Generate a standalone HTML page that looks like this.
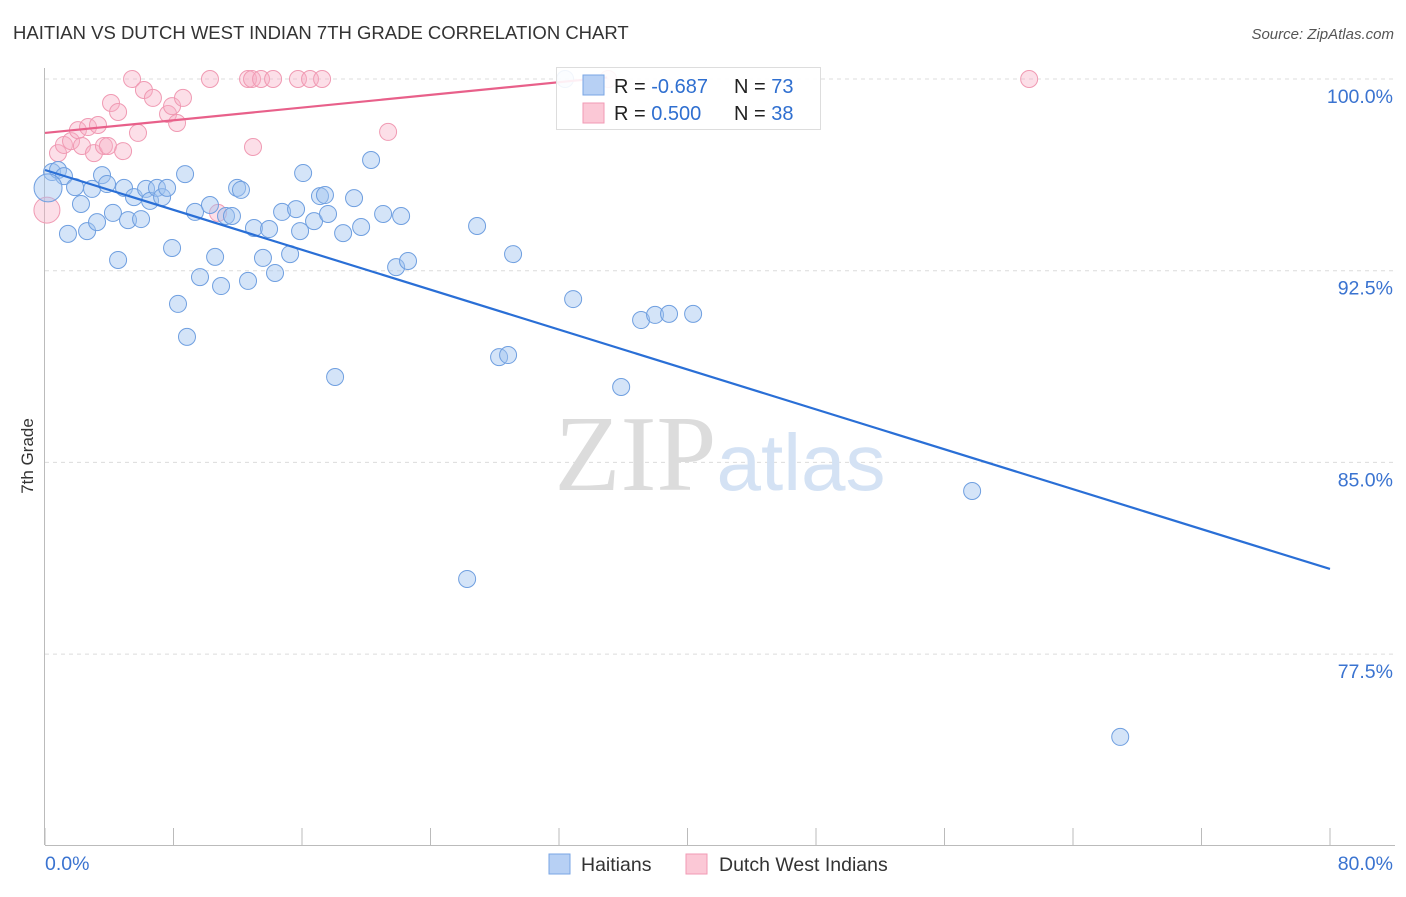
<!DOCTYPE html>
<html><head><meta charset="utf-8"><style>
body{margin:0;background:#fff;font-family:"Liberation Sans",sans-serif;}
svg text{font-family:"Liberation Sans",sans-serif;}
</style></head><body>
<svg width="1406" height="892" viewBox="0 0 1406 892">
<text x="13" y="39" font-size="18.5" fill="#333">HAITIAN VS DUTCH WEST INDIAN 7TH GRADE CORRELATION CHART</text>
<text x="1394" y="39" font-size="15" fill="#555" text-anchor="end" font-style="italic">Source: ZipAtlas.com</text>
<g id="grid"></g>
<text x="720" y="490" font-size="96" text-anchor="middle"><tspan fill="#dcdcdc" font-family="Liberation Serif" font-size="108">ZIP</tspan><tspan fill="#d4e2f4" font-size="80">atlas</tspan></text>
<g id="axes"></g>
<g id="pts"></g>
<g id="lines"></g>
<text transform="translate(33,456) rotate(-90)" font-size="17" fill="#333" text-anchor="middle">7th Grade</text>
<g>
<rect x="556.5" y="67.5" width="264" height="62" fill="#fff" fill-opacity="0.9" stroke="#ddd"/>
<rect x="583" y="75" width="21" height="20" fill="#b7d0f4" stroke="#7aa6e4"/>
<rect x="583" y="103" width="21" height="20" fill="#fbc8d6" stroke="#f29ab4"/>
<text x="614" y="93" font-size="20" fill="#222">R = <tspan fill="#2f6fd0">-0.687</tspan></text>
<text x="734" y="93" font-size="20" fill="#222">N = <tspan fill="#2f6fd0">73</tspan></text>
<text x="614" y="120" font-size="20" fill="#222">R = <tspan fill="#2f6fd0"> 0.500</tspan></text>
<text x="734" y="120" font-size="20" fill="#222">N = <tspan fill="#2f6fd0">38</tspan></text>
</g>
<g>
<rect x="549" y="854" width="21" height="20" fill="#b7d0f4" stroke="#7aa6e4"/>
<text x="581" y="871" font-size="19.5" fill="#333">Haitians</text>
<rect x="686" y="854" width="21" height="20" fill="#fbc8d6" stroke="#f29ab4"/>
<text x="719" y="871" font-size="19.5" fill="#333">Dutch West Indians</text>
</g>
</svg>
<script>
const yTicks=[100,92.5,85,77.5];
const yTickLabels=["100.0%","92.5%","85.0%","77.5%"];
const xTickVals=[0,8,16,24,32,40,48,56,64,72,80];
const xEndLabels=["0.0%","80.0%"];
const haitiansX=[0.44,0.81,1.18,0.19,1.87,2.24,1.43,2.62,2.93,3.24,3.55,3.86,4.23,4.55,4.92,5.17,5.54,5.98,6.29,6.54,6.97,7.29,7.6,7.91,8.28,8.72,8.84,9.34,9.65,10.27,10.59,10.96,11.27,11.64,11.96,12.2,12.64,13.01,13.57,13.95,14.32,14.76,15.26,15.63,15.88,16.07,16.75,17.12,17.43,17.62,18.06,18.56,19.24,19.68,20.3,21.05,21.86,22.17,22.6,26.28,26.9,28.27,28.83,29.14,32.38,32.88,35.87,37.11,37.98,38.85,40.35,57.72,66.94];
const haitiansY=[96.36,96.44,96.2,95.74,95.77,95.11,93.94,94.05,95.7,94.4,96.24,95.89,94.76,92.92,95.74,94.48,95.38,94.52,95.7,95.23,95.74,95.38,95.74,93.39,91.2,96.28,89.91,94.8,92.25,95.07,93.04,91.9,94.64,94.64,95.74,95.66,92.1,94.17,93.0,94.13,92.41,94.8,93.15,94.91,94.05,96.32,94.44,95.42,95.46,94.72,88.34,93.97,95.34,94.21,96.83,94.72,92.64,94.64,92.88,80.44,94.25,89.12,89.2,93.15,100,91.39,87.95,90.57,90.77,90.81,90.81,83.88,74.26];
const dutchX=[0.12,0.81,1.18,1.62,2.05,2.3,2.68,3.05,3.3,3.67,3.92,4.11,4.55,4.86,5.42,5.79,6.16,6.72,7.66,7.91,8.22,8.59,10.27,10.77,12.64,12.89,12.95,13.45,14.2,15.75,16.5,17.25,21.36,35.06,61.27];
const dutchY=[94.87,97.1,97.42,97.57,98.0,97.38,98.12,97.1,98.2,97.38,97.38,99.06,98.71,97.18,100,97.89,99.57,99.26,98.63,98.94,98.28,99.26,100,94.76,100,100,97.34,100,100,100,100,100,97.93,100,100];
const haitiansTrend=[[0,96.44],[80,80.83]];
const dutchTrend=[[0,97.89],[35,100.06]];
const NS="http://www.w3.org/2000/svg";
const X=v=>45+v*(1285/80);
const Y=v=>79+(100-v)*(191.7/7.5);
function mk(tag,attrs,parent){const e=document.createElementNS(NS,tag);for(const k in attrs)e.setAttribute(k,attrs[k]);parent.appendChild(e);return e;}
const grid=document.getElementById('grid'),axes=document.getElementById('axes'),pts=document.getElementById('pts'),lines=document.getElementById('lines');
yTicks.forEach((t,i)=>{
 const l=mk('line',{x1:45,x2:1395,y1:Y(t),y2:Y(t),stroke:'#dcdcdc','stroke-dasharray':'4,4'},grid);
 
 
 const tx=mk('text',{x:1393,y:Y(t)+24,'font-size':19.5,fill:'#3a73d0','text-anchor':'end'},axes);
 tx.textContent=yTickLabels[i];
 
 
});
const ax=mk('line',{x1:45,x2:1395,y1:845.5,y2:845.5,stroke:'#bbb'},axes);


const ay=mk('line',{x1:44.5,x2:44.5,y1:68,y2:845,stroke:'#bbb'},axes);


xTickVals.forEach(v=>{
 const t=mk('line',{x1:X(v),x2:X(v),y1:828,y2:845,stroke:'#bbb'},axes);
 
 
});
const xl0=mk('text',{x:45,y:870,'font-size':19.5,fill:'#3a73d0'},axes);
xl0.textContent=xEndLabels[0];


const xl1=mk('text',{x:1393,y:870,'font-size':19.5,fill:'#3a73d0','text-anchor':'end'},axes);
xl1.textContent=xEndLabels[1];


dutchX.forEach((v,i)=>{
 const c=mk('circle',{cx:X(v),cy:Y(dutchY[i]),r:i===0?13:8.5,fill:'rgba(248,175,198,0.4)',stroke:'#f09ab3','stroke-width':1},pts);
 
 
});
haitiansX.forEach((v,i)=>{
 const c=mk('circle',{cx:X(v),cy:Y(haitiansY[i]),r:i===3?14:8.5,fill:'rgba(160,196,240,0.45)',stroke:'#6f9fe0','stroke-width':1},pts);
 
 
});
const bl=mk('line',{x1:X(haitiansTrend[0][0]),y1:Y(haitiansTrend[0][1]),x2:X(haitiansTrend[1][0]),y2:Y(haitiansTrend[1][1]),stroke:'#2a6fd6','stroke-width':2.2},lines);


const pl=mk('line',{x1:X(dutchTrend[0][0]),y1:Y(dutchTrend[0][1]),x2:X(dutchTrend[1][0]),y2:Y(dutchTrend[1][1]),stroke:'#e8608a','stroke-width':2.2},lines);


</script>
</body></html>
